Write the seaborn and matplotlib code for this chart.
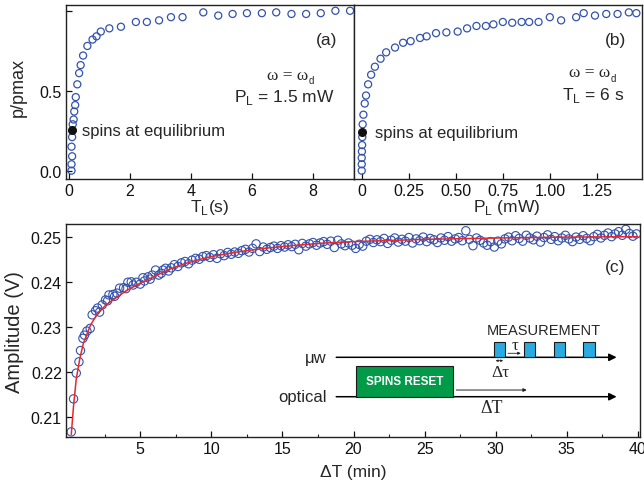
import numpy as np
import pandas as pd
import seaborn as sns
import matplotlib.pyplot as plt
from matplotlib.patches import Rectangle

# (a) p/pmax versus pumping time T_L (s)
tl_s = [0.08, 0.08, 0.10, 0.08, 0.10, 0.12, 0.15, 0.17,
        0.20, 0.22, 0.27, 0.33, 0.38, 0.46, 0.60, 0.77,
        0.90, 1.04, 1.32, 1.70, 2.19, 2.55, 2.95, 3.34,
        3.72, 4.40, 4.89, 5.36, 5.83, 6.32, 6.79, 7.29,
        7.77, 8.25, 8.73, 9.21]
p_a = [0.00, 0.04, 0.09, 0.15, 0.21, 0.29, 0.32, 0.37,
       0.41, 0.46, 0.54, 0.61, 0.66, 0.72, 0.78, 0.82,
       0.84, 0.87, 0.89, 0.90, 0.93, 0.93, 0.94, 0.96,
       0.96, 0.99, 0.97, 0.98, 0.985, 0.985, 0.99, 0.98,
       0.98, 0.985, 1.00, 1.00]

# (b) p/pmax versus laser power P_L (mW)
pl_mw = [0.000, 0.000, 0.000, 0.001, 0.002, 0.003, 0.005, 0.009,
         0.016, 0.023, 0.034, 0.050, 0.070, 0.100, 0.130, 0.177,
         0.22, 0.26, 0.31, 0.345, 0.395, 0.45, 0.51, 0.56,
         0.61, 0.66, 0.70, 0.75, 0.80, 0.85, 0.89, 0.94,
         1.00, 1.06, 1.14, 1.18, 1.24, 1.30, 1.36, 1.42, 1.46]
p_b = [0.00, 0.04, 0.08, 0.12, 0.16, 0.21, 0.29, 0.35,
       0.42, 0.47, 0.54, 0.60, 0.65, 0.70, 0.74, 0.77,
       0.80, 0.81, 0.83, 0.84, 0.86, 0.865, 0.87, 0.89,
       0.905, 0.905, 0.915, 0.93, 0.925, 0.93, 0.93, 0.93,
       0.96, 0.94, 0.96, 0.985, 0.97, 0.98, 0.98, 0.99, 0.985]

# spins at equilibrium (filled dots)
eq_a = (0.09, 0.254)
eq_b = (0.0, 0.24)

# (c) amplitude versus delay dT (min)
dt_min = [0.15, 0.31, 0.50, 0.69, 0.80, 0.97, 1.08, 1.25, 1.48, 1.62,
          1.86, 2.00, 2.14, 2.33, 2.56, 2.70, 2.80, 3.08, 3.20, 3.36,
          3.55, 3.83, 4.00, 4.13, 4.37, 4.50, 4.72, 5.00, 5.19, 5.30,
          5.54, 5.70, 5.84, 6.08, 6.30, 6.48, 6.60, 6.78, 7.00, 7.18,
          7.40, 7.65, 7.90, 8.15, 8.40, 8.65, 8.90, 9.15, 9.40, 9.65,
          9.90, 10.15, 10.40, 10.65, 10.90, 11.15, 11.40, 11.65, 11.90, 12.15,
          12.40, 12.65, 12.90, 13.15, 13.40, 13.65, 13.90, 14.15, 14.40, 14.65,
          14.90, 15.15, 15.40, 15.65, 15.90, 16.15, 16.40, 16.65, 16.90, 17.15,
          17.40, 17.65, 17.90, 18.15, 18.40, 18.65, 18.90, 19.15, 19.40, 19.65,
          19.90, 20.15, 20.40, 20.65, 20.90, 21.15, 21.40, 21.65, 21.90, 22.15,
          22.40, 22.65, 22.90, 23.15, 23.40, 23.65, 23.90, 24.15, 24.40, 24.65,
          24.90, 25.15, 25.40, 25.65, 25.90, 26.15, 26.40, 26.65, 26.90, 27.15,
          27.40, 27.65, 27.90, 28.15, 28.40, 28.65, 28.90, 29.15, 29.40, 29.65,
          29.90, 30.15, 30.40, 30.65, 30.90, 31.15, 31.40, 31.65, 31.90, 32.15,
          32.40, 32.65, 32.90, 33.15, 33.40, 33.65, 33.90, 34.15, 34.40, 34.65,
          34.90, 35.15, 35.40, 35.65, 35.90, 36.15, 36.40, 36.65, 36.90, 37.15,
          37.40, 37.65, 37.90, 38.15, 38.40, 38.65, 38.90, 39.15, 39.40, 39.65,
          39.90]
amp_v = [0.2068, 0.2141, 0.2198, 0.2223, 0.2248, 0.2275, 0.2282, 0.2291, 0.2297, 0.2327,
         0.2336, 0.2342, 0.2333, 0.2349, 0.2360, 0.2358, 0.2371, 0.2372, 0.2368, 0.2375,
         0.2386, 0.2387, 0.2385, 0.2399, 0.2400, 0.2393, 0.2399, 0.2395, 0.2409, 0.2402,
         0.2411, 0.2406, 0.2415, 0.2426, 0.2415, 0.2419, 0.2426, 0.2430, 0.2424, 0.2431,
         0.2438, 0.2434, 0.2442, 0.2445, 0.2440, 0.2448, 0.2452, 0.2450, 0.2456, 0.2458,
         0.2454, 0.2460, 0.2452, 0.2462, 0.2458, 0.2465, 0.2461, 0.2466, 0.2463, 0.2469,
         0.2472, 0.2466, 0.2474, 0.2484, 0.2467, 0.2477, 0.2472, 0.2476, 0.2479, 0.2474,
         0.2480, 0.2477, 0.2482, 0.2478, 0.2483, 0.2471, 0.2485, 0.2479, 0.2484, 0.2487,
         0.2481, 0.2486, 0.2489, 0.2483, 0.2490, 0.2476, 0.2492, 0.2484, 0.2480, 0.2486,
         0.2481, 0.2474, 0.2483, 0.2479, 0.2490, 0.2494, 0.2487, 0.2493, 0.2489, 0.2496,
         0.2485, 0.2492, 0.2497, 0.2488, 0.2494, 0.2490, 0.2498, 0.2486, 0.2495, 0.2491,
         0.2499, 0.2489, 0.2496, 0.2493, 0.2487, 0.2497, 0.2492, 0.2500, 0.2490, 0.2495,
         0.2498, 0.2491, 0.2513, 0.2494, 0.2480, 0.2497, 0.2492, 0.2486, 0.2481, 0.2489,
         0.2477, 0.2490, 0.2484, 0.2495, 0.2499, 0.2491, 0.2502, 0.2496, 0.2490, 0.2503,
         0.2497, 0.2493, 0.2501, 0.2488, 0.2498, 0.2504, 0.2494, 0.2500, 0.2491, 0.2497,
         0.2503, 0.2495, 0.2489, 0.2499, 0.2494, 0.2502, 0.2496, 0.2491, 0.2500, 0.2505,
         0.2497, 0.2503, 0.2508, 0.2500, 0.2506, 0.2511, 0.2503, 0.2516, 0.2507, 0.2501,
         0.2506]

# red fitted curve in (c)
fit_t = [0.15, 0.3, 0.5, 0.75, 1.0, 1.5, 2.0, 2.5, 3.0, 4.0, 5.0, 6.0, 7.0,
         8.0, 9.0, 10.0, 12.0, 14.0, 16.0, 18.0, 20.0, 25.0, 30.0, 35.0, 40.0]
fit_v = [0.2062, 0.2122, 0.2185, 0.2230, 0.2264, 0.2304, 0.2330, 0.2346, 0.2358,
         0.2380, 0.2397, 0.2412, 0.2427, 0.2439, 0.2448, 0.2456, 0.2467, 0.2475,
         0.2481, 0.2486, 0.2489, 0.2494, 0.2497, 0.2499, 0.2500]

BLUE = '#3352ad'
RED = '#e8262b'
SERIF = ['Liberation Serif', 'DejaVu Serif']

sns.set_theme(style='ticks')
plt.rcParams['font.family'] = ['Liberation Sans', 'DejaVu Sans']
plt.rcParams['mathtext.fontset'] = 'custom'
plt.rcParams['mathtext.rm'] = 'Liberation Sans'
plt.rcParams['axes.linewidth'] = 1.0
plt.rcParams['axes.edgecolor'] = '#222222'

fig = plt.figure(figsize=(6.44, 4.85), dpi=100)
ax_a = fig.add_axes([0.1025, 0.6289, 0.4472, 0.3587])
ax_b = fig.add_axes([0.5497, 0.6289, 0.4472, 0.3587])
ax_c = fig.add_axes([0.1025, 0.0963, 0.8913, 0.4398])


def style_ticks(ax):
    ax.tick_params(direction='in', length=4, width=0.9, labelsize=11.5,
                   pad=3, colors='#111111')
    ax.tick_params(which='minor', direction='in', length=2.5, width=0.8)


def omega_label(ax, x, y):
    t = ax.text(x, y, 'ω = ω', family=SERIF, fontsize=12.5,
                ha='center', va='center')
    ax.annotate('d', xy=(1.0, 0.15), xycoords=t, xytext=(0.5, 0),
                textcoords='offset points', fontsize=7, ha='left', va='center')


# panel (a)
sns.scatterplot(x=tl_s, y=p_a, ax=ax_a, marker='o', s=26, color=BLUE,
                facecolor='none', edgecolor=BLUE, linewidth=0.9, zorder=3)
ax_a.plot(*eq_a, 'o', color='#111111', ms=5.5, zorder=4)
ax_a.set_xlim(-0.1, 9.34)
ax_a.set_ylim(-0.052, 1.036)
ax_a.set_xticks([0, 2, 4, 6, 8])
ax_a.set_yticks([0, 0.5, 1.0])
ax_a.set_yticklabels(['0.0', '0.5', ''])
style_ticks(ax_a)
ax_a.set_xlabel('T$_{\\rm L}$(s)', fontsize=12.5, va='center')
ax_a.xaxis.set_label_coords(0.5, -0.16)
ax_a.set_ylabel('p/pmax', fontsize=13, va='center')
ax_a.yaxis.set_label_coords(-0.165, 0.53)
ax_a.text(8.45, 0.82, '(a)', fontsize=12.5, ha='center', va='center')
omega_label(ax_a, 7.15, 0.60)
ax_a.text(8.7, 0.465, 'P$_{\\rm L}$ = 1.5 mW', fontsize=12.5, ha='right', va='center')
ax_a.text(0.42, 0.25, 'spins at equilibrium', fontsize=12, ha='left', va='center')

# panel (b)
sns.scatterplot(x=pl_mw, y=p_b, ax=ax_b, marker='o', s=26, color=BLUE,
                facecolor='none', edgecolor=BLUE, linewidth=0.9, zorder=3)
ax_b.plot(*eq_b, 'o', color='#111111', ms=5.5, zorder=4)
ax_b.set_xlim(-0.041, 1.49)
ax_b.set_ylim(-0.052, 1.036)
ax_b.set_xticks([0, 0.25, 0.5, 0.75, 1.0, 1.25])
ax_b.set_xticklabels(['0', '0.25', '0.50', '0.75', '1.00', '1.25'])
ax_b.set_yticks([])
style_ticks(ax_b)
ax_b.set_xlabel('P$_{\\rm L}$ (mW)', fontsize=12.5, va='center')
ax_b.xaxis.set_label_coords(0.53, -0.16)
ax_b.text(1.347, 0.82, '(b)', fontsize=12.5, ha='center', va='center')
omega_label(ax_b, 1.21, 0.615)
ax_b.text(1.23, 0.475, 'T$_{\\rm L}$ = 6 s', fontsize=12.5, ha='center', va='center')
ax_b.text(0.07, 0.24, 'spins at equilibrium', fontsize=12, ha='left', va='center')

# panel (c)
df_c = pd.DataFrame({'dt': dt_min, 'amp': amp_v})
sns.scatterplot(data=df_c, x='dt', y='amp', ax=ax_c, marker='o', s=36,
                color=BLUE, facecolor='none', edgecolor=BLUE, linewidth=0.8, zorder=2)
sns.lineplot(x=fit_t, y=fit_v, ax=ax_c, color=RED, linewidth=1.1, zorder=3)
ax_c.set_xlim(-0.22, 40.15)
ax_c.set_ylim(0.2056, 0.2528)
ax_c.set_xticks([5, 10, 15, 20, 25, 30, 35, 40])
ax_c.set_xticks([2.5, 7.5, 12.5, 17.5, 22.5, 27.5, 32.5, 37.5], minor=True)
ax_c.set_yticks([0.21, 0.22, 0.23, 0.24, 0.25])
style_ticks(ax_c)
ax_c.set_xlabel('ΔT (min)', fontsize=12.5, va='center')
ax_c.xaxis.set_label_coords(0.5, -0.16)
ax_c.set_ylabel('Amplitude (V)', fontsize=14.5, va='center')
ax_c.yaxis.set_label_coords(-0.09, 0.5)
ax_c.text(38.4, 0.2434, '(c)', fontsize=12.5, ha='center', va='center')

# pulse sequence sketch
seq = dict(arrowstyle='-|>', color='black', lw=1.1, mutation_scale=11)
ax_c.annotate('', xy=(38.7, 0.22330), xytext=(18.59, 0.22330), arrowprops=seq)
ax_c.annotate('', xy=(38.7, 0.21458), xytext=(18.59, 0.21458), arrowprops=seq)
ax_c.text(18.13, 0.22330, 'μw', fontsize=12, ha='right', va='center')
ax_c.text(18.13, 0.21458, 'optical', fontsize=12, ha='right', va='center')
ax_c.add_patch(Rectangle((20.19, 0.21458), 6.84, 0.00673, facecolor='#009a48',
                         edgecolor='#1a1a1a', lw=0.8, zorder=4))
ax_c.text(23.61, 0.21805, 'SPINS RESET', fontsize=8.5, color='white',
          fontweight='bold', ha='center', va='center', zorder=5)
ax_c.annotate('', xy=(32.38, 0.21606), xytext=(27.03, 0.21606),
              arrowprops=dict(arrowstyle='-|>', color='#222222', lw=0.7, mutation_scale=5))
ax_c.text(29.73, 0.21223, 'ΔT', family=SERIF, fontsize=13, ha='center', va='center')
for x0 in [29.85, 31.96, 34.07, 36.17]:
    ax_c.add_patch(Rectangle((x0, 0.22330), 0.82, 0.00345, facecolor='#29abe2',
                             edgecolor='#1a1a1a', lw=0.8, zorder=4))
ax_c.annotate('', xy=(31.96, 0.22419), xytext=(30.67, 0.22419),
              arrowprops=dict(arrowstyle='-|>', color='#222222', lw=0.6, mutation_scale=4))
ax_c.text(31.37, 0.22595, 'τ', family=SERIF, fontsize=12, ha='center', va='center')
ax_c.annotate('', xy=(30.72, 0.22255), xytext=(29.80, 0.22255),
              arrowprops=dict(arrowstyle='<|-|>', color='#222222', lw=0.6, mutation_scale=3))
ax_c.text(30.32, 0.22011, 'Δτ', family=SERIF, fontsize=12.5, ha='center', va='center')
ax_c.text(33.36, 0.22941, 'MEASUREMENT', fontsize=10.5, ha='center', va='center')

fig.savefig('out.png', dpi=100)
plt.close(fig)
